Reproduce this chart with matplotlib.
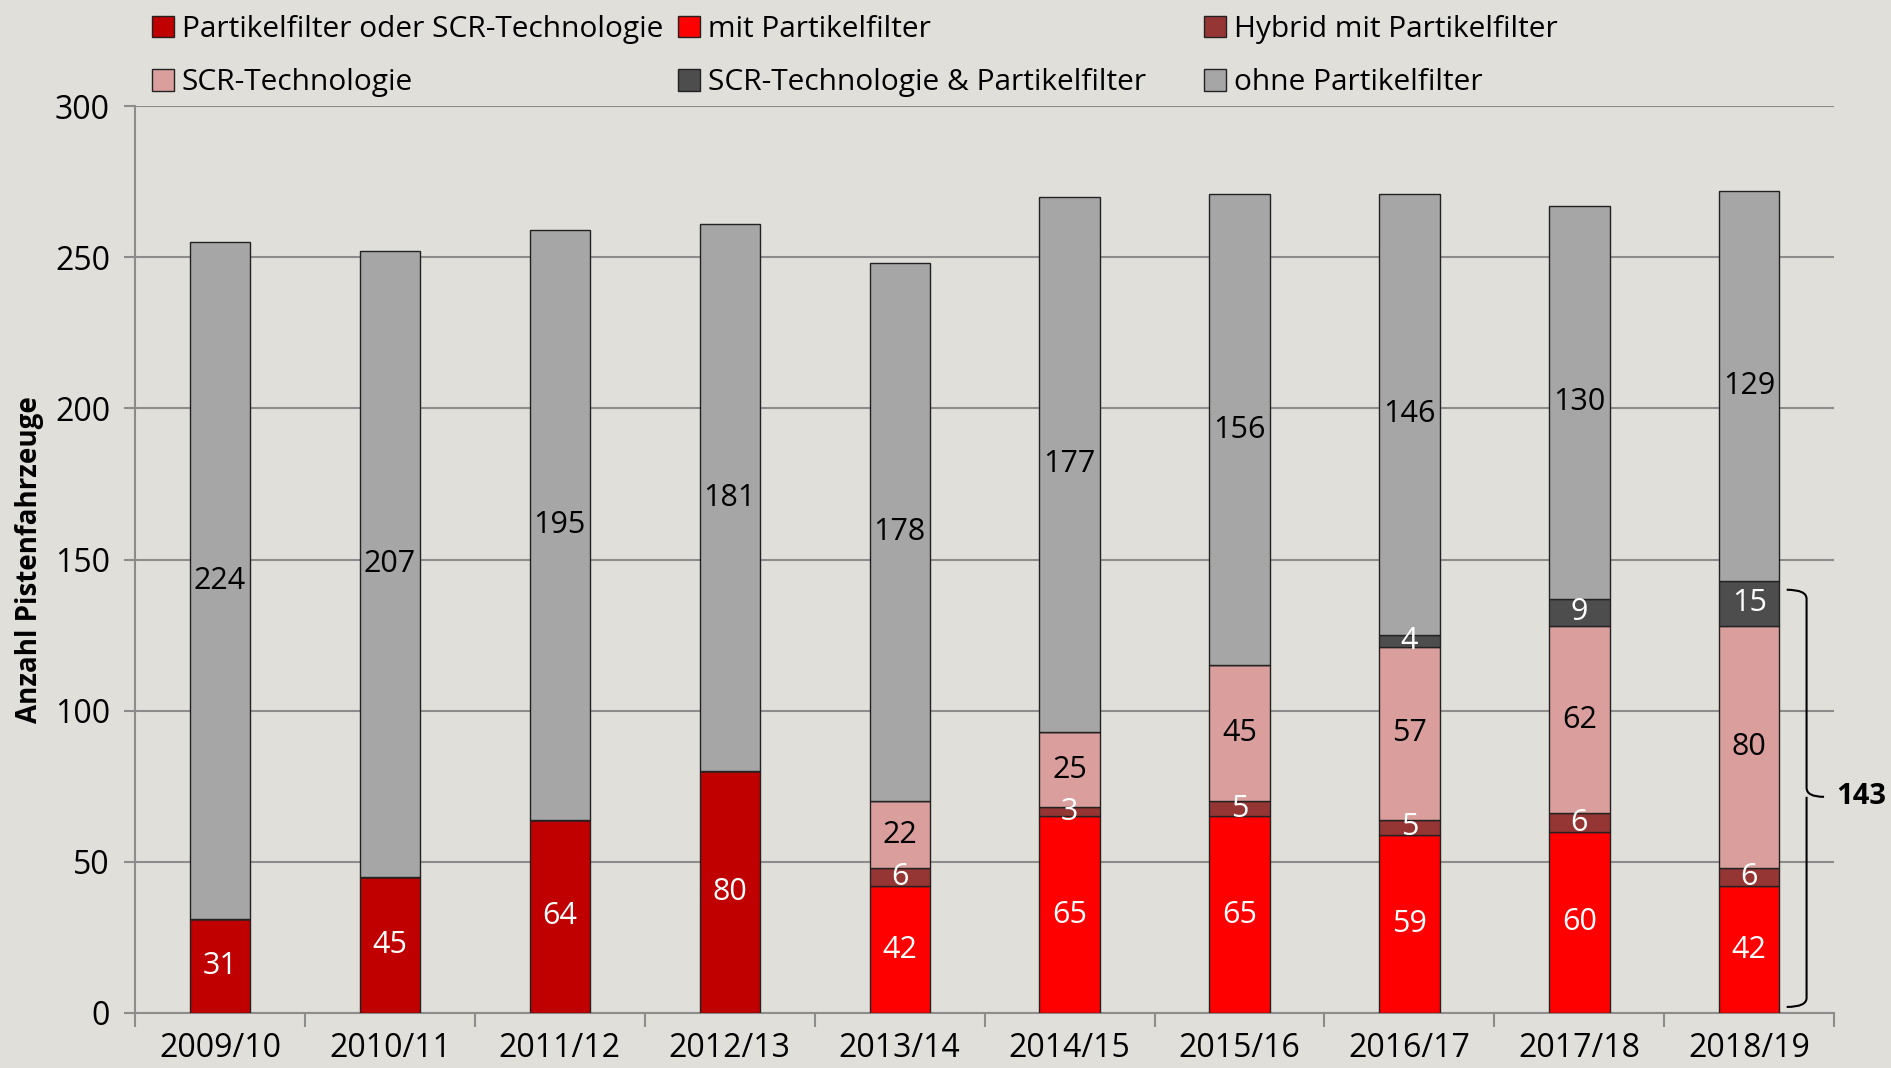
import matplotlib
matplotlib.use("Agg")
import matplotlib.pyplot as plt
from matplotlib.path import Path
from matplotlib.patches import PathPatch
from matplotlib.patches import Patch
import numpy as np

# data
seasons = ["2009/10", "2010/11", "2011/12", "2012/13", "2013/14",
           "2014/15", "2015/16", "2016/17", "2017/18", "2018/19"]
pf_oder_scr = [31, 45, 64, 80, 0, 0, 0, 0, 0, 0]
mit_pf = [0, 0, 0, 0, 42, 65, 65, 59, 60, 42]
hybrid_pf = [0, 0, 0, 0, 6, 3, 5, 5, 6, 6]
scr_tech = [0, 0, 0, 0, 22, 25, 45, 57, 62, 80]
scr_und_pf = [0, 0, 0, 0, 0, 0, 0, 4, 9, 15]
ohne_pf = [224, 207, 195, 181, 178, 177, 156, 146, 130, 129]
brace_total = 143

series = [
    ("Partikelfilter oder SCR-Technologie", pf_oder_scr, "#C00000", "white"),
    ("mit Partikelfilter", mit_pf, "#FF0000", "white"),
    ("Hybrid mit Partikelfilter", hybrid_pf, "#963634", "white"),
    ("SCR-Technologie", scr_tech, "#DA9F9D", "black"),
    ("SCR-Technologie & Partikelfilter", scr_und_pf, "#4D4D4D", "white"),
    ("ohne Partikelfilter", ohne_pf, "#A6A6A6", "black"),
]

bg = "#E0DFD9"
num_font = ["Open Sans", "DejaVu Sans"]

fig = plt.figure(figsize=(18.91, 10.68), dpi=100, facecolor=bg)
ax = fig.add_axes([0.0714, 0.0515, 0.8986, 0.8492], facecolor=bg)

x = np.arange(len(seasons))
bottom = np.zeros(len(seasons))
handles = []
for name, vals, col, tcol in series:
    vals = np.array(vals, dtype=float)
    ax.bar(x, vals, 0.355, bottom=bottom, color=col, edgecolor="#222222",
           linewidth=1.0, zorder=3)
    for xi, v, b in zip(x, vals, bottom):
        if v > 0:
            ax.text(xi, b + v / 2, str(int(v)), ha="center", va="center",
                    color=tcol, fontsize=22, family=num_font, zorder=4)
    bottom += vals
    handles.append(Patch(facecolor=col, edgecolor="#222222", linewidth=1.0, label=name))

ax.set_xlim(-0.5, 9.5)
ax.set_ylim(0, 300)
ax.set_yticks(np.arange(0, 301, 50))
ax.yaxis.grid(True, color="#8C8C8C", linewidth=1.5, zorder=0)
ax.set_axisbelow(True)
for s in ["top", "right"]:
    ax.spines[s].set_visible(False)
for s in ["left", "bottom"]:
    ax.spines[s].set_color("#8C8C8C")
    ax.spines[s].set_linewidth(1.5)

ax.set_xticks(x)
ax.set_xticklabels(seasons)
ax.set_xticks(np.arange(-0.5, 10, 1), minor=True)
ax.tick_params(axis="x", which="major", length=0, pad=14, labelsize=23)
ax.tick_params(axis="x", which="minor", length=10, width=1.5, color="#8C8C8C")
ax.tick_params(axis="y", length=8, width=1.5, color="#8C8C8C", labelsize=23, pad=10)
for lab in ax.get_xticklabels() + ax.get_yticklabels():
    lab.set_family(num_font)

ax.set_ylabel("Anzahl Pistenfahrzeuge", fontsize=20, fontweight="bold",
              family=num_font)
ax.yaxis.set_label_coords(-0.0535, 0.5)

# brace for 2018/19
xa, xs, xt = 9.22, 9.337, 9.44
top, low, mid = 140.0, 2.0, brace_total / 2
r = 3.0
verts = [(xa, top), (xs, top), (xs, top - r), (xs, mid + r), (xs, mid), (xt, mid),
         (xs, mid), (xs, mid - r), (xs, low + r), (xs, low), (xa, low)]
codes = [Path.MOVETO, Path.CURVE3, Path.CURVE3, Path.LINETO, Path.CURVE3, Path.CURVE3,
         Path.MOVETO, Path.CURVE3, Path.LINETO, Path.CURVE3, Path.CURVE3]
ax.add_patch(PathPatch(Path(verts, codes), facecolor="none", edgecolor="black",
                       linewidth=1.5, clip_on=False, zorder=5))
ax.text(9.51, mid, str(brace_total), ha="left", va="center", fontsize=21,
        fontweight="bold", family=num_font, clip_on=False)

# legend: one small legend per column so the columns sit where they should
W, H = 1891.0, 1068.0
col_x = [146, 672, 1198]
for c in range(3):
    hs = [handles[c], handles[c + 3]]
    fig.legend(hs, [h.get_label() for h in hs], loc="upper left",
               bbox_to_anchor=(col_x[c] / W, 1 - 9 / H), frameon=False,
               prop={"family": num_font, "size": 21.5}, handlelength=0.75,
               handleheight=0.75, handletextpad=0.25, labelspacing=0.82,
               borderpad=0.2, borderaxespad=0.0)

fig.savefig("out.png", dpi=100, facecolor=bg)
